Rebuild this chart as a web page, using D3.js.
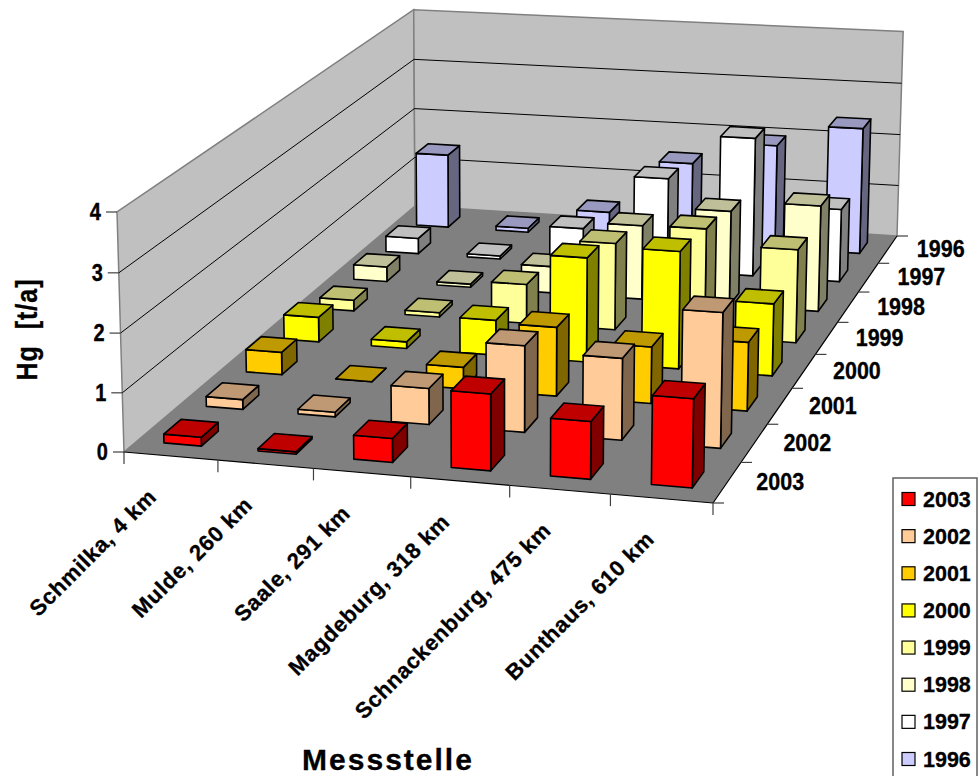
<!DOCTYPE html>
<html><head><meta charset="utf-8">
<script src="https://cdn.jsdelivr.net/npm/d3@7"></script>
<style>html,body{margin:0;padding:0;background:#fff;overflow:hidden}svg{display:block}text{font-family:"Liberation Sans",Arial,sans-serif;font-weight:bold;fill:#000;stroke:#000;stroke-width:.3px}</style>
</head><body><svg id="c" width="978" height="776"></svg>
<script>
const stations = ["Schmilka, 4 km","Mulde, 260 km","Saale, 291 km","Magdeburg, 318 km","Schnackenburg, 475 km","Bunthaus, 610 km"];
const years = ["2003","2002","2001","2000","1999","1998","1997","1996"];
const colors = ["#ff0000","#ffcc99","#ffcc00","#ffff00","#ffff99","#ffffcc","#ffffff","#ccccff"];
const v2003 = [0.15,0.04,0.40,1.27,0.95,1.45];
const v2002 = [0.17,0.08,0.62,1.47,1.38,2.26];
const v2001 = [0.40,0.00,0.38,1.20,0.98,1.18];
const v2000 = [0.45,0.12,0.63,1.86,2.08,1.27];
const v1999 = [0.20,0.08,0.72,1.58,1.95,1.68];
const v1998 = [0.28,0.06,0.50,1.38,1.75,1.95];
const v1997 = [0.30,0.06,0.70,1.76,2.62,1.37];
const v1996 = [1.45,0.08,0.50,1.56,2.00,2.42];
const series = [v2003,v2002,v2001,v2000,v1999,v1998,v1997,v1996];
const zTicks = [0,1,2,3,4];

const svg = d3.select("#c");

// perspective frame of the 3-D box (reference pixels of the box corners)
const FL=[124,452],FR=[713,503],BR=[897,236],BL=[415,206],TOPFL=[117,212],VANISH=[501,13373];
function floorH(p0,p1,p2,p3){
  const dx1=p1[0]-p2[0],dx2=p3[0]-p2[0],sx=p0[0]-p1[0]+p2[0]-p3[0];
  const dy1=p1[1]-p2[1],dy2=p3[1]-p2[1],sy=p0[1]-p1[1]+p2[1]-p3[1];
  const den=dx1*dy2-dx2*dy1;
  const g=(sx*dy2-dx2*sy)/den,h=(dx1*sy-sx*dy1)/den;
  return [[p1[0]-p0[0]+g*p1[0],p3[0]-p0[0]+h*p3[0],p0[0]],
          [p1[1]-p0[1]+g*p1[1],p3[1]-p0[1]+h*p3[1],p0[1]],
          [g,h,1]];
}
const H=floorH(FL,FR,BR,BL);
const sz=(TOPFL[1]-FL[1])/(VANISH[1]-TOPFL[1]);
const z01=d3.scaleLinear().domain([0,4]).range([0,1]);
function P(u,v,val){
  const z=z01(val)*sz;
  const X=H[0][0]*u+H[0][1]*v+H[0][2]+z*VANISH[0];
  const Y=H[1][0]*u+H[1][1]*v+H[1][2]+z*VANISH[1];
  const W=H[2][0]*u+H[2][1]*v+H[2][2]+z;
  return [X/W,Y/W];
}
const uBand=d3.scaleBand().domain(stations).range([-0.005,1]).paddingInner(0.6).paddingOuter(0.3).align(0.525);
const vBand=d3.scaleBand().domain(years).range([0,1]).paddingInner(0.6).paddingOuter(0.3);
const uStep=d3.scaleLinear().domain([0,stations.length]).range([0,1]);
const vStep=d3.scaleLinear().domain([0,years.length]).range([0,1]);

const line=pts=>"M"+pts.map(p=>p[0].toFixed(2)+","+p[1].toFixed(2)).join("L")+"Z";
const seg=(a,b)=>`M${a[0]},${a[1]}L${b[0]},${b[1]}`;
const g=svg.append("g");

// walls and floor
g.append("path").attr("d",line([P(0,0,0),P(0,1,0),P(0,1,4),P(0,0,4)])).attr("fill","#c0c0c0").attr("stroke","#808080").attr("stroke-width",1.5);
g.append("path").attr("d",line([P(0,1,0),P(1,1,0),P(1,1,4),P(0,1,4)])).attr("fill","#c0c0c0").attr("stroke","#808080").attr("stroke-width",1.5);
g.append("path").attr("d",line([P(0,0,0),P(1,0,0),P(1,1,0),P(0,1,0)])).attr("fill","#808080");
zTicks.filter(t=>t>0&&t<4).forEach(t=>{
  g.append("path").attr("d",seg(P(0,0,t),P(0,1,t))+seg(P(0,1,t),P(1,1,t))).attr("fill","none").attr("stroke","#000").attr("stroke-width",1);
});
g.append("path").attr("d",seg(P(0,0,0),P(1,0,0))+seg(P(1,0,0),P(1,1,0))).attr("stroke","#000").attr("stroke-width",1.2).attr("fill","none");

// ticks + labels
zTicks.forEach(t=>{
  const p=P(0,0,t);
  g.append("line").attr("x1",p[0]-11).attr("x2",p[0]).attr("y1",p[1]).attr("y2",p[1]).attr("stroke","#404040").attr("stroke-width",1.2);
  g.append("text").attr("transform",`translate(${p[0]-16},${p[1]+8}) scale(1,1.18)`).attr("text-anchor","end").attr("font-size",20).text(t);
});
d3.range(stations.length+1).forEach(i=>{
  const p=P(uStep(i),0,0);
  g.append("line").attr("x1",p[0]).attr("x2",p[0]).attr("y1",p[1]).attr("y2",p[1]+12).attr("stroke","#404040").attr("stroke-width",1.2);
});
d3.range(years.length+1).forEach(i=>{
  const p=P(1,vStep(i),0);
  g.append("line").attr("x1",p[0]).attr("x2",p[0]+11).attr("y1",p[1]).attr("y2",p[1]).attr("stroke","#404040").attr("stroke-width",1.2);
});
years.forEach((y,i)=>{
  const p=P(1,vStep(i+0.5),0);
  g.append("text").attr("transform",`translate(${p[0]+53},${p[1]+8}) scale(1,1.08)`).attr("text-anchor","middle").attr("font-size",21.5).text(y);
});
stations.forEach((s,i)=>{
  const p=P(uStep(i+0.5),0,0);
  g.append("text").attr("transform",`translate(${p[0]-13+i*1.4},${p[1]+42}) rotate(-45)`).attr("text-anchor","end").attr("font-size",22).attr("letter-spacing",0.7).text(s);
});

// bars: back row first, left to right
const bars=[];
years.forEach((y,r)=>stations.forEach((s,c)=>bars.push({y,s,r,c,val:series[r][c],color:colors[r]})));
bars.sort((a,b)=>d3.descending(a.r,b.r)||d3.ascending(a.c,b.c));
const barG=g.append("g").attr("stroke","#000").attr("stroke-width",1.6).attr("stroke-linejoin","round");
bars.forEach(b=>{
  const u0=uBand(b.s),u1=u0+uBand.bandwidth(),v0=vBand(b.y),v1=v0+vBand.bandwidth();
  const c=d3.color(b.color);
  const dim=k=>d3.rgb(c.r*k,c.g*k,c.b*k).formatHex();
  barG.append("path").attr("d",line([P(u1,v0,0),P(u1,v1,0),P(u1,v1,b.val),P(u1,v0,b.val)])).attr("fill",dim(0.5));
  barG.append("path").attr("d",line([P(u0,v0,0),P(u1,v0,0),P(u1,v0,b.val),P(u0,v0,b.val)])).attr("fill",b.color);
  barG.append("path").attr("d",line([P(u0,v0,b.val),P(u1,v0,b.val),P(u1,v1,b.val),P(u0,v1,b.val)])).attr("fill",dim(0.75));
});

// titles
g.append("text").attr("transform","translate(36.5,329.5) rotate(-90) scale(1,1.2)").attr("text-anchor","middle").attr("font-size",25).attr("letter-spacing",1).style("white-space","pre").text("Hg  [t/a]");
g.append("text").attr("x",388).attr("y",769.5).attr("text-anchor","middle").attr("font-size",30).attr("letter-spacing",2).text("Messstelle");

// legend
const lg=svg.append("g");
lg.append("rect").attr("x",893).attr("y",478).attr("width",84).attr("height",310).attr("fill","#fff").attr("stroke","#606060").attr("stroke-width",1.5);
const legY=d3.scalePoint().domain(years).range([499,759]);
years.forEach((y,i)=>{
  lg.append("rect").attr("x",902).attr("y",legY(y)-6.5).attr("width",13).attr("height",13).attr("fill",colors[i]).attr("stroke","#000").attr("stroke-width",1.2);
  lg.append("text").attr("x",923).attr("y",legY(y)+7.5).attr("font-size",21.5).text(y);
});
</script></body></html>
